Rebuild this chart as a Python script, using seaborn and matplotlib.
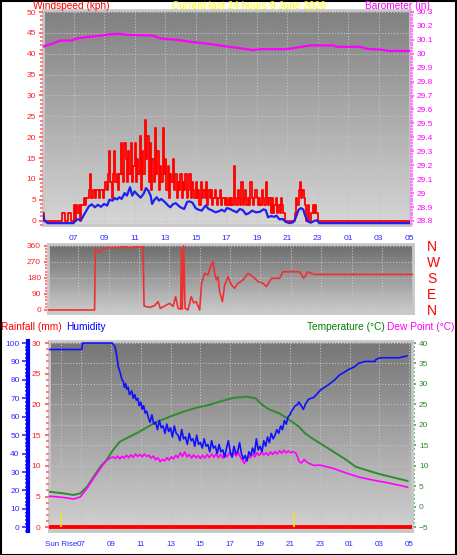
import numpy as np
import matplotlib
matplotlib.use('Agg')
import matplotlib.pyplot as plt
from matplotlib.patches import Rectangle
from matplotlib.ticker import MultipleLocator
import seaborn as sns

sns.set_style('white')
plt.rcParams['font.family'] = ['Liberation Sans', 'DejaVu Sans']

# ---------------- data (hours of day, next day continues past 24) ----------------
# wind gust, kph, 5 minute samples from 05:00 to 22:55
gust_kph = [
    1.8, 0, 0, 0, 0, 0, 0, 0, 0, 0, 0, 0,                        # 05
    0, 0, 0, 1.8, 1.8, 0, 0, 0, 1.8, 1.8, 0, 0,                  # 06
    3.7, 0, 3.7, 1.8, 3.7, 0, 3.7, 3.7, 5.5, 3.7, 5.5, 5.5,      # 07
    7.4, 11.1, 5.5, 7.4, 7.4, 5.5, 7.4, 7.4, 5.5, 7.4, 7.4, 5.5,  # 08
    7.4, 9.2, 7.4, 11.1, 16.7, 9.2, 5.5, 11.1, 16.7, 9.2, 11.1, 7.4,   # 09
    11.1, 18.5, 11.1, 9.2, 18.5, 14.8, 9.2, 16.7, 11.1, 18.5, 9.2, 13.0,  # 10
    18.5, 9.2, 14.8, 11.1, 20.4, 7.4, 16.7, 11.1, 24.1, 14.8, 20.4, 9.2,  # 11
    18.5, 7.4, 14.8, 9.2, 22.2, 11.1, 16.7, 7.4, 13.0, 9.2, 22.2, 11.1,   # 12
    14.8, 7.4, 13.0, 5.5, 11.1, 9.2, 14.8, 7.4, 11.1, 5.5, 9.2, 7.4,      # 13
    11.1, 5.5, 9.2, 7.4, 11.1, 5.5, 7.4, 11.1, 5.5, 9.2, 7.4, 5.5,        # 14
    9.2, 5.5, 7.4, 3.7, 9.2, 5.5, 7.4, 5.5, 9.2, 3.7, 7.4, 5.5,           # 15
    7.4, 3.7, 5.5, 7.4, 5.5, 3.7, 5.5, 7.4, 3.7, 5.5, 5.5, 3.7,           # 16
    5.5, 3.7, 5.5, 3.7, 5.5, 3.7, 13.0, 5.5, 3.7, 7.4, 5.5, 3.7,          # 17
    9.2, 3.7, 5.5, 7.4, 3.7, 5.5, 3.7, 9.2, 5.5, 3.7, 5.5, 7.4,           # 18
    5.5, 3.7, 5.5, 3.7, 7.4, 5.5, 3.7, 9.2, 5.5, 3.7, 5.5, 1.8,           # 19
    5.5, 1.8, 3.7, 5.5, 1.8, 3.7, 1.8, 5.5, 3.7, 1.8, 0, 0,               # 20
    0, 0, 0, 0, 0, 0, 1.8, 5.5, 3.7, 7.4, 9.2, 5.5,                       # 21
    7.4, 5.5, 3.7, 0, 3.7, 0, 0, 1.8, 3.7, 1.8, 3.7, 1.8,                 # 22
    0, 0]
gust_hour = list(np.arange(5, 23, 1 / 12)) + [23.0, 29.05]

avg_hour = [5.0, 5.1, 5.3, 7.0, 7.2, 7.5, 7.75, 8.0, 8.2, 8.4, 8.6, 8.8, 9.0, 9.2,
            9.35, 9.55, 9.7, 9.85, 10.0, 10.15, 10.35, 10.5, 10.7, 10.85, 11.0, 11.2,
            11.4, 11.6, 11.75, 11.9, 12.05, 12.15, 12.3, 12.45, 12.6, 12.75, 13.0, 13.2,
            13.35, 13.5, 13.7, 13.9, 14.1, 14.25, 14.45, 14.6, 14.8, 15.0, 15.2, 15.4,
            15.65, 15.85, 16.05, 16.3, 16.5, 16.7, 16.9, 17.05, 17.25, 17.45, 17.7, 17.9,
            18.1, 18.3, 18.5, 18.7, 18.95, 19.2, 19.45, 19.6, 19.75, 19.95, 20.15, 20.3,
            20.5, 20.7, 20.9, 21.15, 21.4, 21.55, 21.75, 21.9, 22.05, 22.2, 22.35, 22.55,
            22.75, 22.95, 23.1, 29.05]
avg_kph = [1.5, 0, -0.6, -0.6, 0.3, 0.2, 1.8, 3.4, 3.9, 3.2, 3.8, 3.3, 4.0, 3.6,
           5.0, 4.8, 5.4, 5.1, 5.6, 5.2, 6.6, 6.0, 8.0, 6.0, 7.0, 6.2,
           5.5, 6.5, 7.8, 7.2, 6.0, 4.0, 5.0, 5.6, 4.8, 5.2, 4.4, 3.6,
           3.2, 3.9, 4.2, 3.5, 3.0, 2.8, 4.5, 4.6, 4.3, 3.0, 2.6, 2.4,
           3.6, 2.8, 2.5, 2.0, 2.2, 2.6, 2.2, 3.0, 2.8, 2.4, 2.0, 2.8,
           2.5, 1.5, 1.8, 2.4, 2.0, 2.1, 2.7, 2.5, 0.8, 1.1, 0.9, 1.2,
           0.3, 0.4, -0.3, -0.6, -0.4, 0.6, 2.6, 3.0, 2.7, 1.0, -0.2, -0.5,
           -0.1, 0.1, -0.6, -0.6]

baro_hour = [5.0, 5.1, 5.69, 6.13, 6.89, 7.22, 7.87, 8.75, 9.4, 9.95, 10.49, 11.37,
             12.24, 12.68, 13.77, 14.86, 15.95, 17.04, 17.92, 18.79, 19.23, 20.97,
             21.85, 22.5, 24.03, 24.25, 25.78, 26.21, 27.09, 27.74, 29.05]
baro_in = [30.05, 30.055, 30.076, 30.095, 30.095, 30.11, 30.12, 30.13, 30.14, 30.143,
           30.136, 30.133, 30.13, 30.11, 30.10, 30.083, 30.07, 30.052, 30.04, 30.026,
           30.033, 30.033, 30.048, 30.06, 30.06, 30.05, 30.05, 30.036, 30.03, 30.02, 30.02]

dir_hour = [5.0, 8.07, 8.12, 8.4, 8.62, 9.06, 9.5, 9.94, 10.38, 10.82, 11.15, 11.26,
            11.33, 11.7, 12.03, 12.25, 12.4, 12.8, 13.02, 13.24, 13.41, 13.57, 13.74,
            13.79, 13.85, 13.94, 14.03, 14.22, 14.44, 14.6, 14.77, 14.99, 15.12, 15.32,
            15.54, 15.7, 15.87, 15.98, 16.09, 16.2, 16.31, 16.49, 16.64, 16.86, 17.08,
            17.3, 17.52, 17.85, 18.18, 18.51, 18.84, 19.17, 19.39, 19.72, 20.26, 20.48,
            21.58, 21.85, 22.13, 22.35, 22.57, 29.05]
dir_deg = [0, 0, 343, 322, 345, 350, 348, 355, 350, 355, 352, 357,
           22, 15, 25, 47, 9, 28, 37, 20, 75, 9, 5,
           350, 5, 360, 10, 0, 75, 40, 47, 0, 150, 206,
           197, 244, 272, 206, 169, 187, 103, 47, 140, 187, 140,
           122, 150, 169, 206, 187, 159, 150, 131, 178, 178, 215,
           215, 178, 215, 206, 200, 200]
compass = ['N', 'E', 'S', 'W', 'N']

hum_hour = [4.86, 7.05, 7.1, 9.1, 9.28, 9.4, 9.5, 9.62, 9.75, 9.84, 9.9, 10.0, 10.06,
            10.15, 10.25, 10.4, 10.5, 10.6, 10.7, 10.8, 10.9, 11.0, 11.1, 11.2, 11.3, 11.4,
            11.5, 11.625, 11.75, 11.875, 12.0, 12.125, 12.25, 12.375, 12.5, 12.625, 12.75,
            12.875, 13.0, 13.125, 13.25, 13.375, 13.5, 13.625, 13.75, 13.875, 14.0, 14.125,
            14.25, 14.375, 14.5, 14.625, 14.75, 14.875, 15.0, 15.125, 15.25, 15.375, 15.5,
            15.625, 15.75, 15.875, 16.0, 16.125, 16.25, 16.375, 16.5, 16.625, 16.75, 16.875,
            17.0, 17.125, 17.25, 17.375, 17.5, 17.625, 17.75, 17.875, 18.0, 18.125, 18.25,
            18.375, 18.5, 18.625, 18.75, 18.875, 19.0, 19.125, 19.25, 19.375, 19.5, 19.625,
            19.75, 19.875, 20.0, 20.125, 20.25, 20.375, 20.5, 20.625, 20.75, 20.875, 21.0,
            21.1, 21.2, 21.35, 21.5, 21.6, 21.75, 21.9, 22.05, 22.25, 22.6, 23.05, 23.6,
            24.0, 24.3, 24.9, 25.3, 25.6, 26.05, 26.7, 26.75, 27.05, 28.3, 28.85]
hum_pct = [96.5, 96.5, 100, 100, 98, 93, 87, 84, 80, 79, 76, 78, 75,
           76, 72, 74, 70, 72, 69, 70, 66, 68, 64, 66, 62, 63,
           60, 57, 61, 56, 57, 53, 58, 54, 55, 51, 56,
           52, 54, 49, 55, 51, 50, 47, 53, 48, 49, 45,
           51, 47, 48, 44, 50, 45, 46, 43, 48, 44, 45,
           41, 47, 43, 44, 40, 45, 41, 42, 38, 43, 47,
           41, 38, 44, 40, 41, 46, 40, 37, 39, 36, 41,
           39, 43, 40, 48, 42, 44, 41, 47, 44, 49, 46,
           51, 48, 50, 53, 51, 55, 53, 58, 56, 60, 61,
           63, 64, 66, 66.5, 68, 66, 64, 67, 69.5, 70.5, 74.5, 77.5,
           80, 82.5, 85.5, 87, 89, 90, 90, 91, 92, 92, 93]

temp_hour = [4.86, 5.8, 6.5, 6.95, 7.4, 7.85, 8.3, 8.7, 9.15, 9.6, 10.25, 10.9, 11.5,
             12.1, 12.95, 13.84, 14.73, 15.6, 16.3, 17.2, 18.1, 18.7, 19.15, 19.6, 20.3,
             20.7, 21.2, 21.6, 22.0, 22.5, 23.2, 23.9, 24.8, 25.4, 26.1, 27.0, 27.9, 28.9]
temp_c = [3.7, 3.3, 2.9, 3.3, 4.9, 7.4, 9.8, 11.4, 13.9, 15.9, 17.1, 18.3, 19.6,
          20.8, 22.0, 23.2, 24.2, 24.9, 25.7, 26.6, 26.9, 26.5, 24.9, 23.8, 22.8,
          21.9, 20.6, 19.6, 18.0, 16.7, 15.1, 13.5, 11.4, 9.8, 9.0, 8.0, 7.2, 6.3]

dew_hour = [4.86, 5.8, 6.5, 6.95, 7.4, 7.85, 8.3, 8.7, 9.0, 9.15, 9.3, 9.45, 9.6, 9.75,
            9.9, 10.05, 10.2, 10.35, 10.5, 10.65, 10.8, 10.95, 11.1, 11.25, 11.4, 11.55,
            11.7, 11.85, 12.0, 12.15, 12.3, 12.45, 12.6, 12.75, 12.9, 13.05, 13.2, 13.35,
            13.5, 13.65, 13.8, 13.95, 14.1, 14.25, 14.4, 14.55, 14.7, 14.85, 15.0, 15.15,
            15.3, 15.45, 15.6, 15.75, 15.9, 16.05, 16.2, 16.35, 16.5, 16.65, 16.8, 16.95,
            17.1, 17.25, 17.4, 17.55, 17.7, 17.85, 17.95, 18.05, 18.2, 18.35, 18.5, 18.65,
            18.8, 18.95, 19.1, 19.25, 19.4, 19.55, 19.7, 19.85, 20.0, 20.15, 20.3, 20.45,
            20.6, 20.75, 20.9, 21.05, 21.2, 21.4, 21.5, 21.6, 21.75, 21.85, 21.95, 22.1,
            22.3, 22.6, 23.0, 23.9, 24.8, 25.7, 26.6, 27.5, 28.4, 28.9]
dew_c = [2.6, 2.3, 1.9, 2.4, 4.5, 7.0, 9.4, 11.3, 12.0, 12.2, 11.8, 12.4, 11.7, 12.3,
         11.9, 12.6, 12.0, 12.7, 12.1, 12.9, 12.3, 12.8, 12.2, 12.9, 12.3, 12.6,
         11.9, 12.4, 11.5, 12.0, 11.0, 11.6, 11.2, 12.0, 11.4, 12.2, 11.7, 12.6,
         12.0, 13.2, 12.3, 13.4, 12.2, 12.8, 11.9, 12.7, 12.0, 12.5, 11.8, 12.6,
         11.9, 12.8, 12.0, 12.9, 12.1, 13.0, 12.0, 12.8, 11.9, 12.9, 12.2, 13.3,
         12.3, 13.1, 12.4, 13.2, 12.0, 11.2, 10.6, 11.4, 12.3, 12.0, 12.9, 12.2,
         13.2, 12.5, 13.4, 12.7, 13.2, 12.6, 13.4, 12.8, 13.5, 12.9, 13.7, 13.1,
         13.8, 13.2, 13.6, 13.2, 13.5, 13.1, 12.3, 11.2, 10.7, 11.0, 11.6, 11.0,
         10.6, 10.1, 10.2, 9.4, 8.2, 7.2, 6.5, 5.9, 5.2, 4.8]

rain_hour = [4.86, 6.7, 6.7, 24.0, 24.0, 29.18]
rain_mm = [0, 0, 0.1, 0.1, 0, 0]

sunrise_hour = 5.66
sunset_hour = 21.27

hour_ticks = [7, 9, 11, 13, 15, 17, 19, 21, 23, 25, 27, 29]
hour_labels = ['07', '09', '11', '13', '15', '17', '19', '21', '23', '01', '03', '05']

# ---------------- layout helpers ----------------
W, H = 457, 555
PX = 72 / 100  # points per pixel at dpi 100


def box(l, t, r, b):
    return [l / W, 1 - b / H, (r - l) / W, (b - t) / H]


def shade(ax, top, bottom):
    grad = np.linspace(top, bottom, 200).reshape(-1, 1)
    ax.imshow(grad, extent=[0, 1, 0, 1], transform=ax.transAxes, cmap='gray',
              vmin=0, vmax=1, aspect='auto', zorder=0, interpolation='bilinear')


def frame(ax):
    for s in ax.spines.values():
        s.set_color('#c8c8c8')
        s.set_linewidth(2)


BLUE_TXT = '#2a2aff'
RED_TXT = '#ff2020'
MAG = '#ff00ff'
GREEN = '#2e8b2e'
GRID = dict(color='#c4c4c4', linestyle=':', linewidth=0.8)

fig = plt.figure(figsize=(W / 100, H / 100), dpi=100)
fig.patch.set_facecolor('white')

# ---------------- panel 1: wind speed + barometer ----------------
ax1 = fig.add_axes(box(43, 10, 410, 225))
shade(ax1, 0.50, 0.84)
frame(ax1)
sns.lineplot(x=gust_hour, y=gust_kph, ax=ax1, color='#ff0000', lw=1.3,
             drawstyle='steps-post', estimator=None, zorder=3)
sns.lineplot(x=avg_hour, y=avg_kph, ax=ax1, color='#2020ee', lw=1.6,
             estimator=None, zorder=4)
ax1.set_xlim(5.0, 29.05)
ax1.set_ylim(-1.05, 50.5)
ax1.set_xticks(hour_ticks)
ax1.set_xticklabels(hour_labels)
ax1.xaxis.set_minor_locator(MultipleLocator(1))
ax1.yaxis.set_major_locator(MultipleLocator(5))
ax1.yaxis.set_minor_locator(MultipleLocator(1))
ax1.tick_params(axis='x', which='both', colors='#a0a0a0', labelcolor=BLUE_TXT,
                labelsize=6, length=3, pad=4)
ax1.tick_params(axis='y', which='major', colors='#ff7070', labelcolor=RED_TXT,
                labelsize=6, length=3, width=1.5, pad=2)
ax1.tick_params(axis='y', which='minor', colors='#ff8080', length=2, width=1.5)
ax1.grid(True, **GRID)
ax1.set_axisbelow(False)

ax1b = ax1.twinx()
sns.lineplot(x=baro_hour, y=baro_in, ax=ax1b, color=MAG, lw=1.6, estimator=None)
ax1b.set_ylim(28.771, 30.314)
ax1b.yaxis.set_minor_locator(MultipleLocator(0.02))
ax1b.set_yticks(np.round(np.arange(28.8, 30.31, 0.1), 1))
ax1b.set_yticklabels(['28.8', '28.9', '29', '29.1', '29.2', '29.3', '29.4', '29.5', '29.6',
                      '29.7', '29.8', '29.9', '30', '30.1', '30.2', '30.3'])
ax1b.tick_params(axis='y', which='major', colors='#ff70ff', labelcolor=MAG,
                 labelsize=6, length=3, width=1.5, pad=2)
ax1b.tick_params(axis='y', which='minor', colors='#ff80ff', length=2, width=1.5)
for s in ax1b.spines.values():
    s.set_visible(False)
for a in (ax1, ax1b):
    a.set_xlabel('')
    a.set_ylabel('')

# ---------------- panel 2: wind direction ----------------
ax2 = fig.add_axes(box(48, 244, 413, 313))
shade(ax2, 0.42, 0.80)
frame(ax2)
sns.lineplot(x=dir_hour, y=dir_deg, ax=ax2, color='#f03030', lw=1.2, estimator=None,
             sort=False, zorder=3)
ax2.set_xlim(5.0, 29.05)
ax2.set_ylim(-17, 371)
ax2.set_xticks(hour_ticks)
ax2.set_xticklabels([])
ax2.tick_params(axis='x', length=0)
ax2.set_xlabel('')
ax2.set_ylabel('')

ax2b = ax2.twinx()
ax2b.set_ylim(-17, 371)
ax2b.set_yticks([0, 90, 180, 270, 360])
ax2b.set_yticklabels(compass)
ax2b.tick_params(axis='y', length=0, labelcolor='#ff0000', labelsize=10, pad=10)
for s in ax2b.spines.values():
    s.set_visible(False)

ax2.yaxis.tick_left()
ax2.set_yticks([0, 90, 180, 270, 360])
ax2.yaxis.set_minor_locator(MultipleLocator(18))
ax2.tick_params(axis='y', which='major', colors='#ff7070', labelcolor=RED_TXT,
                labelsize=6, length=3, width=1.5, pad=2)
ax2.tick_params(axis='y', which='minor', colors='#ff8080', length=2, width=1.5)
ax2.grid(True, **GRID)

# ---------------- panel 3: temperature, dew point, humidity, rain ----------------
ax3 = fig.add_axes(box(49, 341, 412, 531))
shade(ax3, 0.46, 0.82)
frame(ax3)
sns.lineplot(x=temp_hour, y=temp_c, ax=ax3, color=GREEN, lw=1.4, estimator=None, zorder=3)
sns.lineplot(x=dew_hour, y=dew_c, ax=ax3, color=MAG, lw=1.2, estimator=None, zorder=3)
ax3.set_xlim(4.855, 29.18)
ax3.set_ylim(-5.9, 40.49)
ax3.set_xlabel('')
ax3.set_ylabel('')

ax3h = ax3.twinx()
sns.lineplot(x=hum_hour, y=hum_pct, ax=ax3h, color='#1010ff', lw=1.2, estimator=None)
ax3h.set_ylim(-2.0, 101.1)
ax3h.yaxis.tick_left()
ax3h.spines['left'].set_position(('outward', 21 * PX))
ax3h.spines['left'].set_color('#0000ff')
ax3h.spines['left'].set_linewidth(3)
for k in ('right', 'top', 'bottom'):
    ax3h.spines[k].set_visible(False)
ax3h.set_yticks(range(0, 101, 10))
ax3h.yaxis.set_minor_locator(MultipleLocator(2))
ax3h.tick_params(axis='y', which='major', colors='#5050ff', labelcolor=BLUE_TXT,
                 labelsize=6, length=4, width=1.5, pad=2)
ax3h.tick_params(axis='y', which='minor', colors='#6060ff', length=2.5, width=1.5)
ax3h.set_ylabel('')

ax3r = ax3.twinx()
sns.lineplot(x=rain_hour, y=rain_mm, ax=ax3r, color='#ff0000', lw=2.8, estimator=None,
             sort=False)
ax3r.vlines([sunrise_hour, sunset_hour], 0, 2.5, color='#e8e040', lw=1.3, zorder=5)
ax3r.set_ylim(-0.6, 30.33)
ax3r.yaxis.tick_left()
for s in ax3r.spines.values():
    s.set_visible(False)
ax3r.set_yticks(range(0, 31, 5))
ax3r.yaxis.set_minor_locator(MultipleLocator(1))
ax3r.tick_params(axis='y', which='major', colors='#ff7070', labelcolor=RED_TXT,
                 labelsize=6, length=3, width=1.5, pad=3)
ax3r.tick_params(axis='y', which='minor', colors='#ff8080', length=2, width=1.5)
ax3r.set_ylabel('')

# twinx moved the base ticks to the left, put temperature back on the right
ax3.yaxis.tick_right()
ax3.yaxis.set_major_locator(MultipleLocator(5))
ax3.yaxis.set_minor_locator(MultipleLocator(1))
ax3.set_xticks([sunrise_hour] + hour_ticks)
ax3.set_xticklabels(['Sun Rise'] + hour_labels)
ax3.xaxis.set_minor_locator(MultipleLocator(1))
ax3.tick_params(axis='x', which='both', colors='#a0a0a0', labelcolor=BLUE_TXT,
                labelsize=5.8, length=3, pad=4)
ax3.tick_params(axis='y', which='major', colors='#70b070', labelcolor=GREEN,
                labelsize=6, length=3, width=1.5, pad=2)
ax3.tick_params(axis='y', which='minor', colors='#80c080', length=2, width=1.5)
ax3.grid(True, **GRID)

# ---------------- titles ----------------
fs = 7.3
fig.text(33 / W, 1 - 6 / H, 'Windspeed (kph)', color='#ff0000', fontsize=fs, va='center')
fig.text(249 / W, 1 - 6 / H, 'Current last 24 hours 9 June 2026', color='#ffff00',
         fontsize=fs, va='center', ha='center')
fig.text(365 / W, 1 - 6 / H, 'Barometer (in)', color=MAG, fontsize=fs, va='center')
fig.text(1 / W, 1 - 327 / H, 'Rainfall (mm)', color='#ff0000', fontsize=fs, va='center')
fig.text(66 / W, 1 - 327 / H, 'Humidity', color='#0000ff', fontsize=fs, va='center')
fig.text(307 / W, 1 - 327 / H, 'Temperature (°C)', color='#008000', fontsize=fs, va='center')
fig.text(387 / W, 1 - 327 / H, 'Dew Point (°C)', color=MAG, fontsize=fs, va='center')

fig.patches.append(Rectangle((0.5 / W, 0.5 / H), 1 - 1.5 / W, 1 - 1.5 / H,
                             transform=fig.transFigure, fill=False,
                             edgecolor='black', lw=1.5))

fig.savefig('out.png', dpi=100)
